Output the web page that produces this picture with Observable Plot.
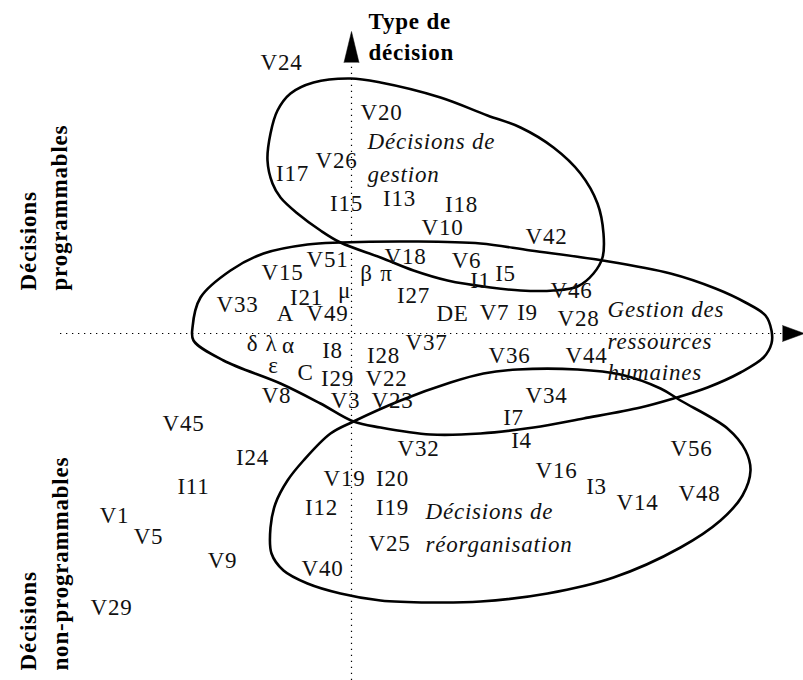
<!DOCTYPE html>
<html>
<head>
<meta charset="utf-8">
<script src="https://cdn.jsdelivr.net/npm/d3@7"></script>
<script src="https://cdn.jsdelivr.net/npm/@observablehq/plot@0.6"></script>
<style>
  html, body { margin: 0; padding: 0; background: #fff; }
  svg text { letter-spacing: 0.8px; }
</style>
</head>
<body>
<div id="chart"></div>
<script>
// Point labels and their coordinates on the factorial plane (factor scores x100)
const labels = ["V24","V20","V26","I17","I15","I13","I18","V10","V42","V51","V18","V6","I1","I5","V46",
  "V15","β","π","μ","I21","I27","V33","A","V49","DE","V7","I9","V28",
  "δ","λ","α","I8","I28","V37","V36","V44","ε","C","I29","V22","V8","V3","V23","V34","I7",
  "V45","I4","V32","V56","I24","V16","V19","I20","I11","I3","V48","V14","I12","I19",
  "V1","V5","V25","V9","V40","V29"];
const labelX = [-70,30,-15,-59,-5,48,110,91,195,-24,54,115,129,154,220,
  -69,15,35,-7,-45,62,-114,-66,-24,101,143,176,227,
  -99,-80,-63,-19,32,75,158,235,-78,-46,-14,35,-75,-6,41,195,162,
  -168,170,67,340,-99,205,-7,41,-158,245,348,286,-30,41,
  -237,-203,38,-129,-29,-240];
const labelY = [271,221,173,160,130,135,129,106,97,74,77,73,53,60,43,
  61,60,60,43,36,38,29,20,20,20,21,21,15,
  -10,-10,-12,-17,-22,-9,-22,-22,-32,-39,-45,-45,-62,-67,-67,-62,-84,
  -90,-107,-115,-115,-124,-137,-145,-145,-153,-153,-160,-169,-174,-174,
  -182,-203,-210,-227,-235,-274];

// Cluster outlines (closed curves)
const gestionX = [-1,29,89,136,169,202,229,246,252,251,242,226,202,169,139,96,62,29,-11,-31,-54,-71,-79,-84,-81,-74,-61,-38];
const gestionY = [255,251,236,218,206,186,160,130,100,76,60,47,43,43,46,53,63,76,91,103,120,136,150,173,200,223,240,251];
const rhX = [-159,-151,-121,-88,-44,-11,62,129,179,251,319,364,394,414,420,420,412,389,356,322,289,232,182,129,79,29,2,-31,-71,-128,-158];
const rhY = [6,36,63,80,89,91,92,90,83,73,60,45,31,18,3,-10,-24,-39,-54,-65,-74,-85,-94,-100,-101,-94,-88,-70,-50,-27,-7];
const reorgX = [2,49,99,132,166,226,269,309,329,376,394,399,391,369,329,262,196,129,79,29,-11,-44,-68,-80,-81,-76,-64,-48,-21];
const reorgY = [-88,-67,-49,-40,-36,-36,-41,-55,-67,-95,-117,-137,-162,-187,-214,-244,-260,-268,-269,-267,-260,-250,-237,-220,-194,-170,-147,-127,-100];

// Cluster names
const groupText = ["Décisions de","gestion","Gestion des","ressources","humaines","Décisions de","réorganisation"];
const groupX = [16,16,256,256,256,74,74];
const groupY = [192,159,24,-8,-39,-178,-211];

// Axis titles
const axisText = ["Type de","décision"];
const axisX = [17,17];
const axisY = [312,281];
const sideText = ["Décisions","programmables","Décisions","non-programmables"];
const sideX = [-316,-285,-316,-284];
const sideY = [43,43,-337,-337];

const pts = labels.map((l,i)=>({l, x: labelX[i], y: labelY[i]}));
const toPath = (xs, ys) => xs.map((x,i)=>({x, y: ys[i]}));
const groups = groupText.map((t,i)=>({t, x: groupX[i], y: groupY[i]}));
const axisT = axisText.map((t,i)=>({t, x: axisX[i], y: axisY[i]}));
const sideT = sideText.map((t,i)=>({t, x: sideX[i], y: sideY[i]}));

const serif = "'Liberation Serif', 'Times New Roman', serif";

const chart = Plot.plot({
  width: 803,
  height: 680,
  margin: 0,
  x: {domain: [-351, 452], axis: null},
  y: {domain: [-347, 333], axis: null},
  style: {background: "white", color: "black"},
  marks: [
    Plot.ruleX([0], {y1: -347, y2: 271, stroke: "black", strokeWidth: 1.2, strokeDasharray: "1.3,4.7"}),
    Plot.ruleY([0], {x1: -291, x2: 431, stroke: "black", strokeWidth: 1.2, strokeDasharray: "1.3,4.7"}),
    Plot.vector([{x: 0, y: 271}], {x: "x", y: "y", rotate: 0, length: 31, r: 7.5, shape: "spike", anchor: "start", fill: "black", stroke: "black", strokeWidth: 0.5}),
    Plot.vector([{x: 431, y: 0}], {x: "x", y: "y", rotate: 90, length: 22, r: 8, shape: "spike", anchor: "start", fill: "black", stroke: "black", strokeWidth: 0.5}),
    Plot.line(toPath(gestionX, gestionY), {x: "x", y: "y", curve: "catmull-rom-closed", stroke: "black", strokeWidth: 2.6}),
    Plot.line(toPath(rhX, rhY), {x: "x", y: "y", curve: "catmull-rom-closed", stroke: "black", strokeWidth: 2.6}),
    Plot.line(toPath(reorgX, reorgY), {x: "x", y: "y", curve: "catmull-rom-closed", stroke: "black", strokeWidth: 2.6}),
    Plot.text(pts, {x: "x", y: "y", text: "l", fontSize: 23, fontFamily: serif, fill: "#111"}),
    Plot.text(groups, {x: "x", y: "y", text: "t", fontSize: 23, fontFamily: serif, fontStyle: "italic", textAnchor: "start", fill: "#111"}),
    Plot.text(axisT, {x: "x", y: "y", text: "t", fontSize: 23, fontFamily: serif, fontWeight: "bold", textAnchor: "start", fill: "black"}),
    Plot.text(sideT, {x: "x", y: "y", text: "t", fontSize: 23, fontFamily: serif, fontWeight: "bold", textAnchor: "start", lineAnchor: "bottom", rotate: -90, fill: "black"})
  ]
});
document.getElementById("chart").appendChild(chart);
</script>
</body>
</html>
